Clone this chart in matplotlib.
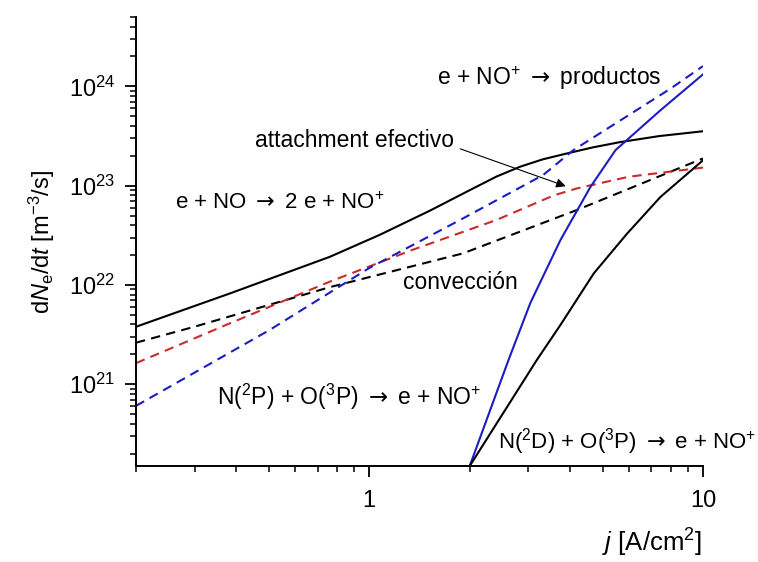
import matplotlib
matplotlib.use("Agg")
import matplotlib.pyplot as plt
from matplotlib.ticker import LogLocator, NullFormatter

plt.rcParams["font.family"] = ["Liberation Sans", "DejaVu Sans"]
plt.rcParams["mathtext.fontset"] = "custom"
plt.rcParams["mathtext.rm"] = "Liberation Sans"
plt.rcParams["mathtext.it"] = "Liberation Sans:italic"
plt.rcParams["mathtext.bf"] = "Liberation Sans:bold"
plt.rcParams["mathtext.sf"] = "DejaVu Sans"

# current density j [A/cm^2] and rates dNe/dt [m^-3/s]
j_ioniz = [0.2, 0.382, 0.762, 1.076, 1.52, 2.0, 2.4, 2.83, 3.31, 3.91, 4.68, 5.66, 7.41, 10.0]
r_ioniz = [3.79e21, 8.2e21, 1.92e22, 3.2e22, 5.6e22, 9.0e22, 1.23e23, 1.55e23, 1.84e23,
           2.11e23, 2.43e23, 2.75e23, 3.16e23, 3.53e23]

j_conv = [0.2, 0.3, 0.762, 1.91, 3.49, 4.2, 10.0]
r_conv = [2.62e21, 3.8e21, 9.5e21, 2.08e22, 4.5e22, 5.7e22, 1.88e23]

j_attach = [0.2, 0.382, 0.762, 1.34, 2.4, 3.58, 4.2, 6.0, 10.0]
r_attach = [1.63e21, 4.1e21, 1.08e22, 2.24e22, 4.5e22, 8.0e22, 9.4e22, 1.23e23, 1.52e23]

j_recomb = [0.2, 0.503, 1.0, 1.91, 3.32, 4.09, 8.0, 10.0]
r_recomb = [6.05e20, 3.52e21, 1.48e22, 4.68e22, 1.28e23, 2.28e23, 9.5e23, 1.6e24]

j_n2p = [2.0, 2.615, 3.04, 3.74, 4.60, 5.47, 7.46, 10.0]
r_n2p = [1.5e20, 1.76e21, 6.6e21, 2.83e22, 9.7e22, 2.28e23, 5.75e23, 1.32e24]

j_n2d = [2.0, 3.18, 3.74, 4.71, 5.93, 7.46, 10.0]
r_n2d = [1.5e20, 1.76e21, 3.95e21, 1.31e22, 3.3e22, 7.7e22, 1.8e23]

BLUE = "#1c1cc4"
RED = "#cc2a2a"
DASH = (4.5, 3.0)
ARROW = r"$\mathsf{\rightarrow}$"

fig = plt.figure(figsize=(7.58, 5.62), dpi=100)
ax = fig.add_axes([0.1794, 0.1708, 0.748, 0.799])

ax.plot(j_ioniz, r_ioniz, color="black", lw=1.5)
ax.plot(j_conv, r_conv, color="black", lw=1.5, dashes=DASH)
ax.plot(j_attach, r_attach, color=RED, lw=1.5, dashes=DASH)
ax.plot(j_recomb, r_recomb, color=BLUE, lw=1.5, dashes=DASH)
ax.plot(j_n2p, r_n2p, color=BLUE, lw=1.5)
ax.plot(j_n2d, r_n2d, color="black", lw=1.5)

ax.set_xscale("log")
ax.set_yscale("log")
ax.set_xlim(0.2, 10)
ax.set_ylim(1.5e20, 5e24)

for side in ("top", "right"):
    ax.spines[side].set_visible(False)
for side in ("left", "bottom"):
    ax.spines[side].set_linewidth(1.4)

ax.xaxis.set_minor_locator(LogLocator(base=10, subs=range(2, 10), numticks=10))
ax.xaxis.set_minor_formatter(NullFormatter())
ax.set_xticks([1, 10])
ax.set_xticklabels(["1", "10"])
ax.yaxis.set_minor_locator(LogLocator(base=10, subs=range(2, 10), numticks=20))
ax.yaxis.set_minor_formatter(NullFormatter())
ax.tick_params(which="major", direction="out", length=8, width=1.3, labelsize=17, pad=7)
ax.tick_params(which="minor", direction="out", length=4.5, width=1.1)
ax.tick_params(axis="x", which="major", pad=9)

ax.set_ylabel(r"d$N_{\rm e}$/d$t$ [m$^{-3}$/s]", fontsize=17)
ax.yaxis.set_label_coords(-0.14, 0.5)
ax.set_xlabel(r"$j$ [A/cm$^{2}$]", fontsize=18.5, ha="right")
ax.xaxis.set_label_coords(0.998, -0.135)

fs = 16.5
ax.text(1.597, 1.2e24, "e + NO$^{+}$ " + ARROW + " productos", fontsize=fs, ha="left", va="center")
ax.text(1.79, 2.87e23, "attachment efectivo", fontsize=fs, ha="right", va="center")
ax.text(0.261, 6.67e22, "e + NO " + ARROW + " 2 e + NO$^{+}$", fontsize=16, ha="left", va="center")
ax.text(1.262, 1.07e22, "convección", fontsize=fs, ha="left", va="center")
ax.text(2.17, 7.45e20, "N($^{2}$P) + O($^{3}$P) " + ARROW + " e + NO$^{+}$",
        fontsize=fs, ha="right", va="center")
ax.text(0.997, 0.2135, "N($^{2}$D) + O($^{3}$P) " + ARROW + " e + NO$^{+}$",
        transform=fig.transFigure, fontsize=16, ha="right", va="center")

ax.annotate("", xy=(3.95, 9.66e22), xytext=(1.84, 2.4e23),
            arrowprops=dict(arrowstyle="-|>", lw=0.8, color="black", mutation_scale=14))

fig.savefig("out.png", dpi=100)
